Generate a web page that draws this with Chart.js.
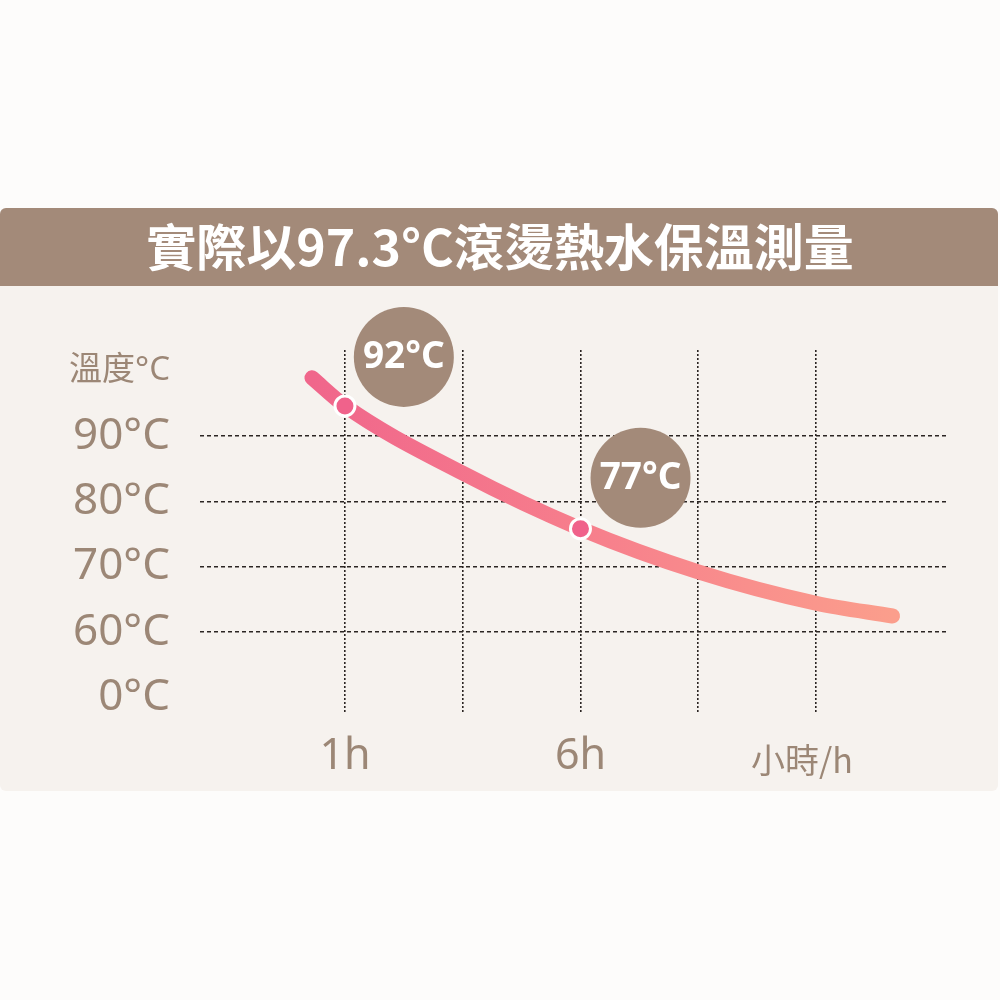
<!DOCTYPE html>
<html>
<head>
<meta charset="utf-8">
<script src="https://cdn.jsdelivr.net/npm/chart.js@4"></script>
<style>
  html, body { margin: 0; padding: 0; background: #fdfcfb; }
  #chart1 { display: block; }
</style>
</head>
<body>
<canvas id="chart1" width="1000" height="1000"></canvas>
<script>
var titleText = '實際以97.3°C滾燙熱水保溫測量';

// curve, x is the grid column (1 = 1h, 3 = 6h)
var curveX = [0.72, 1, 2, 3, 4, 5, 5.65];
var curveY = [98.9, 94.6, 84.3, 75.8, 69.2, 64.4, 62.45];

// the two marked points
var markX = [1, 3];
var markY = [94.6, 75.8];

// round labels above the marks
var bubbleX = [1.5, 3.51];
var bubbleY = [102.1, 83.6];
var bubbleText = ['92°C', '77°C'];

// axis ticks
var yTickValues = [50, 60, 70, 80, 90, 100];
var yTickLabels = ['0°C', '60°C', '70°C', '80°C', '90°C', '溫度°C'];
var xTickValues = [1, 2, 3, 4, 4.88, 5];
var xTickLabels = ['1h', '', '6h', '', '小時/h', ''];

var BROWN = '#a38a79';
var LABEL = '#9c8776';
var GRID = '#2b2523';

function toPoints(xs, ys) {
    var out = [];
    for (var i = 0; i < xs.length; i++) out.push({x: xs[i], y: ys[i]});
    return out;
}

function lineGradient(context) {
    var chart = context.chart;
    if (!chart.chartArea) return '#f57f8c';
    var xs = chart.scales.x;
    var g = chart.ctx.createLinearGradient(xs.getPixelForValue(curveX[0]), 0, xs.getPixelForValue(curveX[curveX.length - 1]), 0);
    g.addColorStop(0, '#f0668b');
    g.addColorStop(0.5, '#f7808c');
    g.addColorStop(1, '#fb9e8c');
    return g;
}

// background panel + brown header band
var panelPlugin = {
    id: 'panel',
    beforeDraw: function(chart) {
        var ctx = chart.ctx;
        ctx.save();
        ctx.fillStyle = '#fdfcfb';
        ctx.fillRect(0, 0, chart.width, chart.height);
        ctx.fillStyle = '#f6f2ee';
        ctx.beginPath();
        ctx.roundRect(0, 208, 998, 583, 6);
        ctx.fill();
        ctx.fillStyle = BROWN;
        ctx.beginPath();
        ctx.roundRect(0, 208, 998, 78, [6, 6, 0, 0]);
        ctx.fill();
        ctx.restore();
    }
};

// text inside the brown circles
var bubbleLabelPlugin = {
    id: 'bubbleLabels',
    afterDatasetsDraw: function(chart) {
        var meta = chart.getDatasetMeta(2);
        var ctx = chart.ctx;
        ctx.save();
        ctx.fillStyle = '#ffffff';
        ctx.font = 'bold 37px "Noto Sans", sans-serif';
        ctx.textAlign = 'center';
        ctx.textBaseline = 'middle';
        meta.data.forEach(function(el, i) {
            ctx.fillText(bubbleText[i], el.x, el.y + 1);
        });
        ctx.restore();
    }
};

var chart1 = new Chart(document.getElementById('chart1'), {
    type: 'line',
    data: {
        datasets: [{
            type: 'line',
            data: toPoints(curveX, curveY),
            borderColor: lineGradient,
            borderWidth: 15,
            borderCapStyle: 'round',
            borderJoinStyle: 'round',
            cubicInterpolationMode: 'monotone',
            pointRadius: 0,
            clip: false,
            order: 3
        }, {
            type: 'scatter',
            data: toPoints(markX, markY),
            backgroundColor: '#f0628b',
            borderColor: '#ffffff',
            borderWidth: 3,
            pointRadius: 10,
            clip: false,
            order: 2
        }, {
            type: 'bubble',
            data: bubbleX.map(function(v, i) { return {x: v, y: bubbleY[i], r: 50}; }),
            backgroundColor: BROWN,
            borderWidth: 0,
            clip: false,
            order: 1
        }]
    },
    options: {
        responsive: false,
        animation: false,
        devicePixelRatio: 1,
        layout: { padding: 0 },
        plugins: {
            legend: { display: false },
            tooltip: { enabled: false },
            title: {
                display: true,
                text: titleText,
                color: '#ffffff',
                font: { family: '"Noto Sans CJK TC", sans-serif', size: 50, weight: 'bold', lineHeight: 1.2 },
                padding: { top: 217, bottom: 73 }
            }
        },
        scales: {
            x: {
                type: 'linear',
                min: -0.231,
                max: 6.121,
                afterBuildTicks: function(axis) {
                    axis.ticks = xTickValues.map(function(v) { return {value: v}; });
                },
                afterFit: function(axis) { axis.height = 287; },
                ticks: {
                    padding: 18,
                    color: LABEL,
                    callback: function(value) { return xTickLabels[xTickValues.indexOf(value)]; },
                    font: function(c) {
                        var small = c.tick && c.tick.value === 4.88;
                        return small
                            ? { family: '"Noto Sans CJK TC", "Noto Sans", sans-serif', size: 34, lineHeight: 1.7 }
                            : { family: '"Noto Sans", sans-serif', size: 43, lineHeight: 1.2 };
                    }
                },
                grid: {
                    drawTicks: false,
                    lineWidth: 1.6,
                    color: function(c) {
                        if (!c.tick) return GRID;
                        return c.tick.value === 4.88 ? 'rgba(0,0,0,0)' : GRID;
                    }
                },
                border: { display: false, dash: [2, 2] }
            },
            y: {
                min: 47.6,
                max: 103.16,
                afterBuildTicks: function(axis) {
                    axis.ticks = yTickValues.map(function(v) { return {value: v}; });
                },
                afterFit: function(axis) { axis.width = 200; },
                ticks: {
                    padding: 30,
                    color: LABEL,
                    callback: function(value) { return yTickLabels[yTickValues.indexOf(value)]; },
                    font: function(c) {
                        var small = c.tick && c.tick.value === 100;
                        return { family: '"Noto Sans", "Noto Sans CJK TC", sans-serif', size: small ? 33 : 44 };
                    }
                },
                grid: {
                    drawTicks: false,
                    lineWidth: 1.6,
                    color: function(c) {
                        if (!c.tick) return GRID;
                        return (c.tick.value === 50 || c.tick.value === 100) ? 'rgba(0,0,0,0)' : GRID;
                    }
                },
                border: { display: false, dash: [4, 3] }
            },
            // empty strip on the right so the plot ends at the same place as the picture
            yRight: {
                position: 'right',
                min: 0,
                max: 1,
                afterFit: function(axis) { axis.width = 52; },
                ticks: { display: false },
                grid: { display: false, drawTicks: false },
                border: { display: false }
            }
        }
    },
    plugins: [panelPlugin, bubbleLabelPlugin]
});
</script>
</body>
</html>
